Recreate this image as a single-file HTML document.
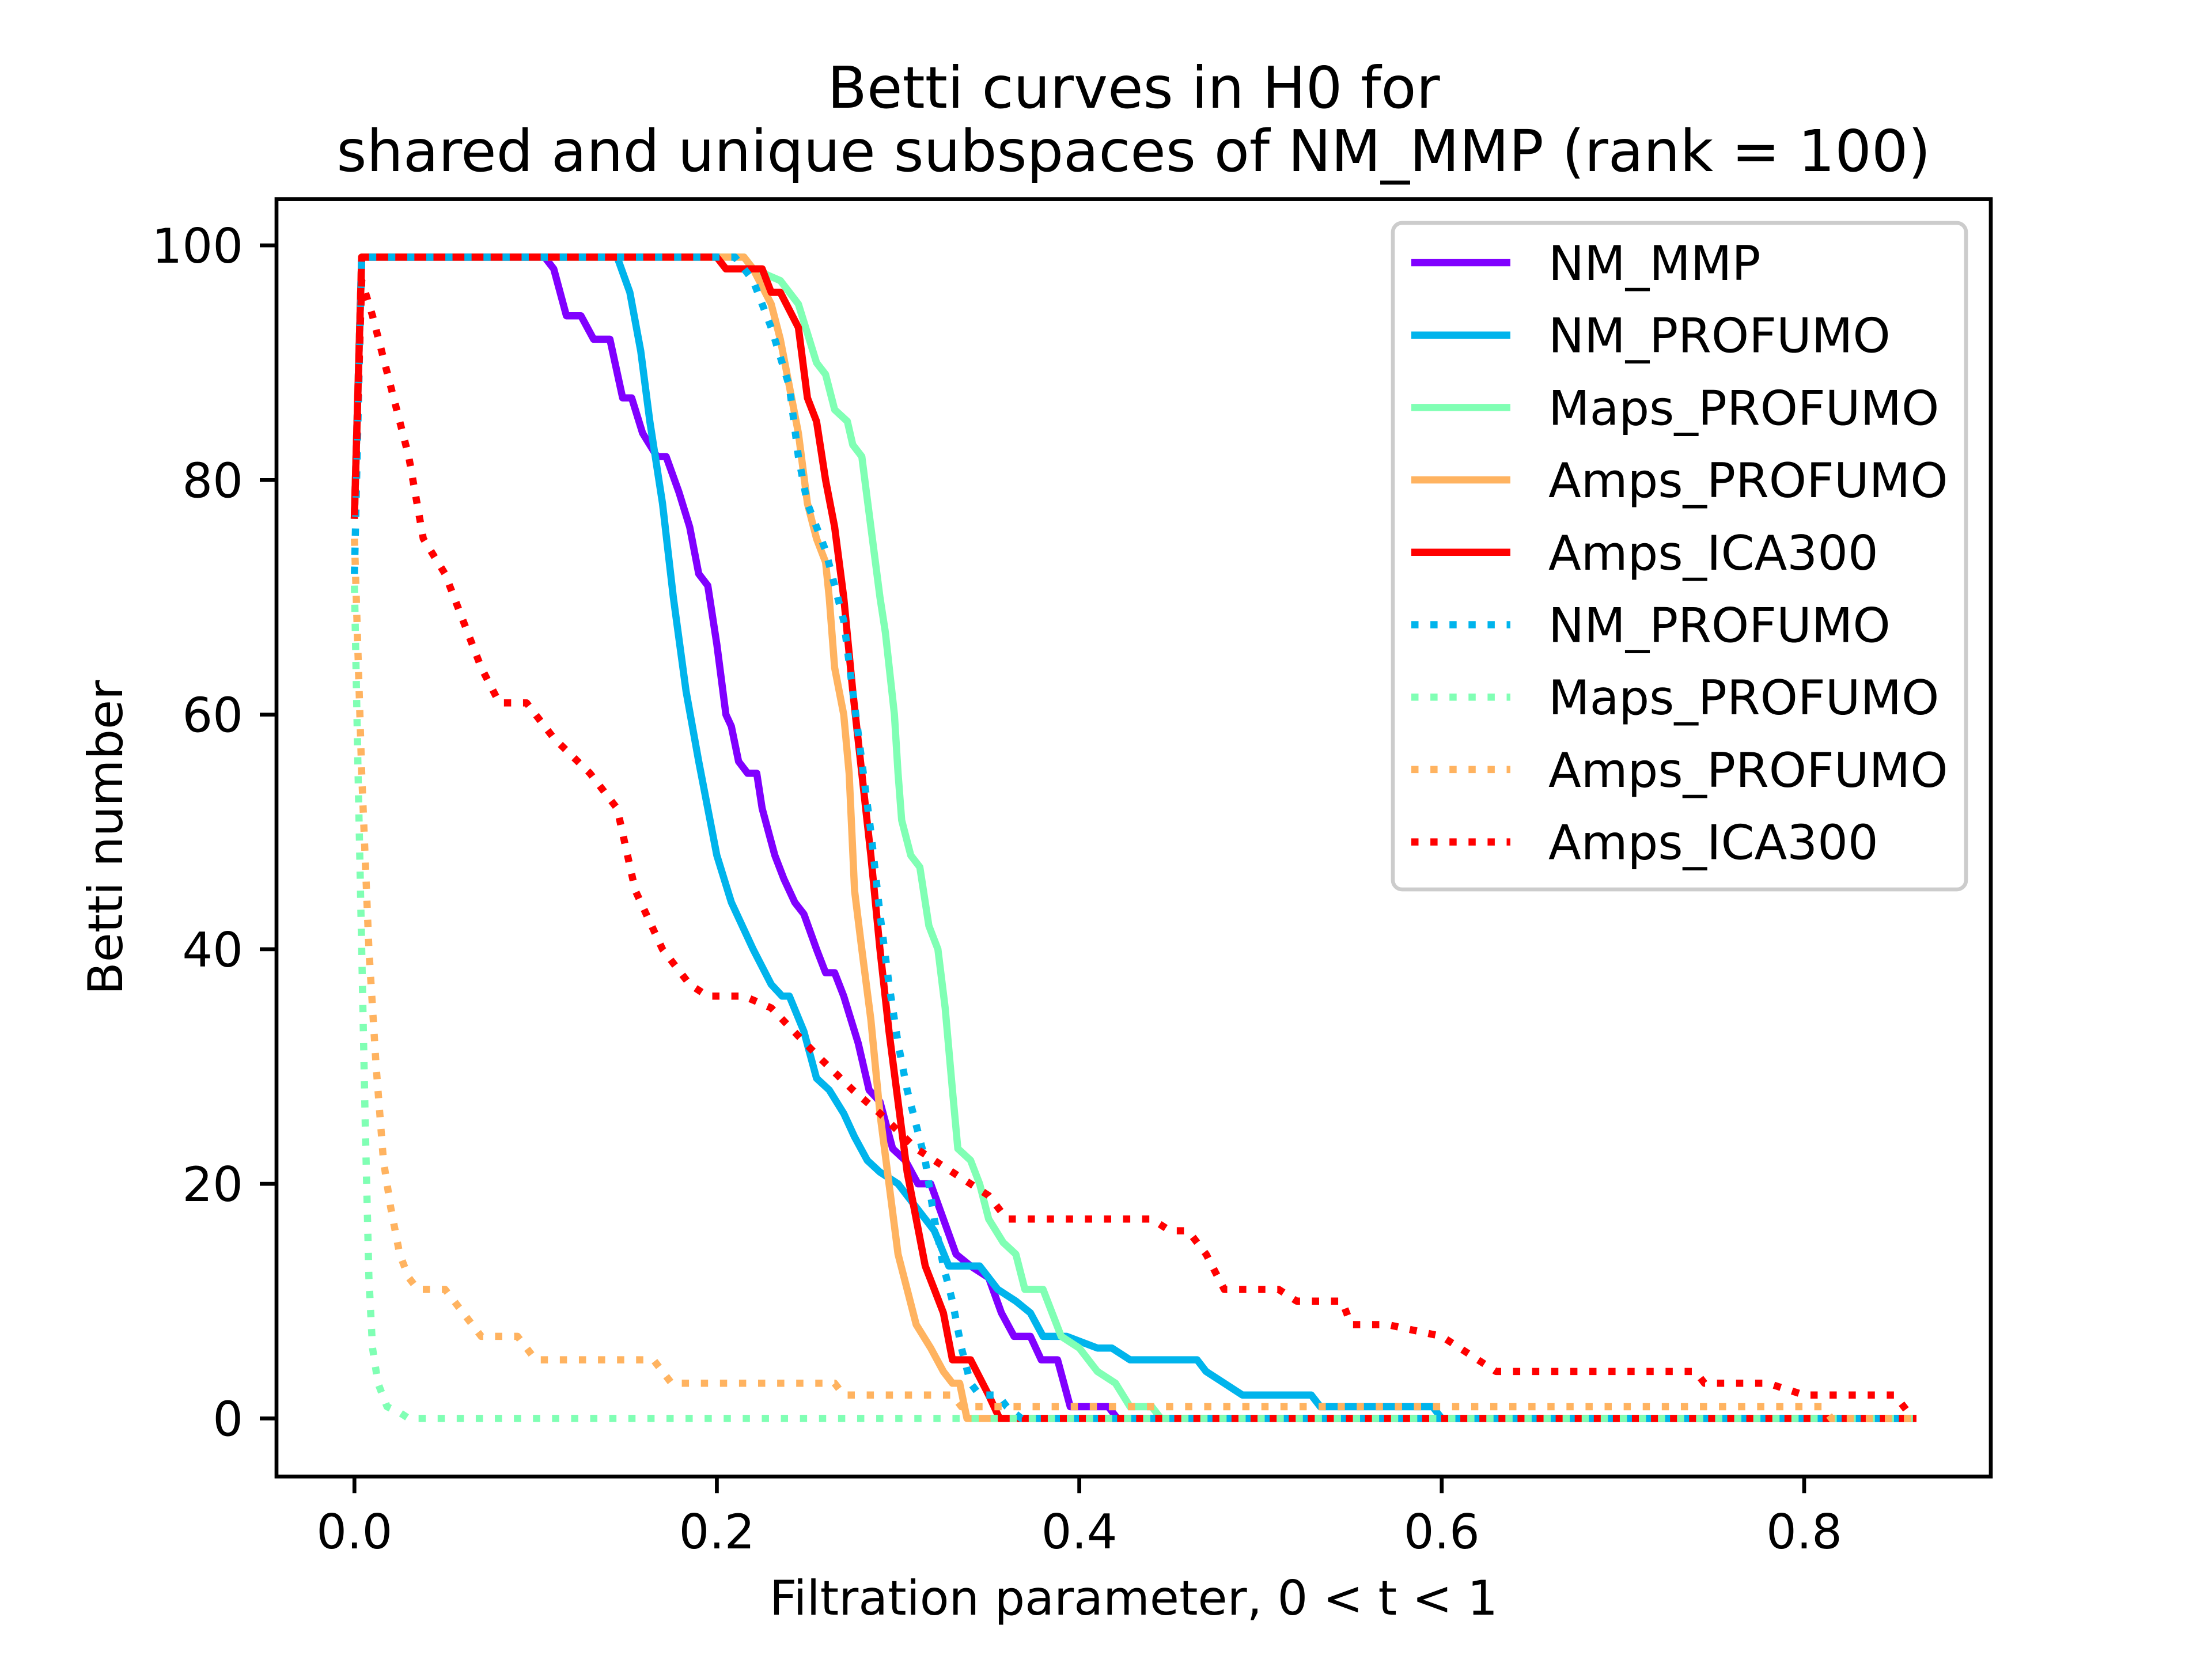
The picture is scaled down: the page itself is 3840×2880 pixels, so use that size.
<!DOCTYPE html>
<html><head><meta charset="utf-8"><style>
html,body{margin:0;padding:0;background:#fff}
svg{display:block}
text{font-family:"DejaVu Sans","Liberation Sans",sans-serif;fill:#000}
</style></head><body>
<svg id="chart" width="3840" height="2880" viewBox="0 0 3840 2880" xmlns="http://www.w3.org/2000/svg">
<rect width="3840" height="2880" fill="#fff"/>
<text x="1968" y="187" font-size="100" text-anchor="middle">Betti curves in H0 for</text>
<text x="1968" y="297" font-size="100" text-anchor="middle">shared and unique subspaces of NM_MMP (rank = 100)</text>
<g id="plot"></g>
<g id="axes"></g>
<text x="1968" y="2803" font-size="83" text-anchor="middle">Filtration parameter, 0 &lt; t &lt; 1</text>
<text x="0" y="0" font-size="83" text-anchor="middle" transform="translate(212,1454) rotate(-90)">Betti number</text>
<g id="legend"></g>
</svg>
<script>
const xTicks = [0.0, 0.2, 0.4, 0.6, 0.8];
const xTickLabels = ["0.0", "0.2", "0.4", "0.6", "0.8"];
const yTicks = [0, 20, 40, 60, 80, 100];
const yTickLabels = ["0", "20", "40", "60", "80", "100"];
const seriesNames = ["NM_MMP","NM_PROFUMO","Maps_PROFUMO","Amps_PROFUMO","Amps_ICA300","NM_PROFUMO","Maps_PROFUMO","Amps_PROFUMO","Amps_ICA300"];
const seriesColors = ["#8000ff","#00b4ec","#80ffb4","#ffb360","#ff0000","#00b4ec","#80ffb4","#ffb360","#ff0000"];
const seriesDotted = [false,false,false,false,false,true,true,true,true];

const nmMmpX = [0,0.004,0.105,0.11,0.117,0.125,0.132,0.141,0.148,0.153,0.159,0.167,0.172,0.179,0.185,0.19,0.195,0.2,0.205,0.208,0.212,0.217,0.222,0.225,0.232,0.237,0.243,0.248,0.255,0.26,0.265,0.27,0.278,0.284,0.29,0.297,0.304,0.311,0.318,0.325,0.332,0.34,0.35,0.357,0.364,0.373,0.379,0.388,0.395,0.416,0.421,0.86];
const nmMmpY = [77,99,99,98,94,94,92,92,87,87,84,82,82,79,76,72,71,66,60,59,56,55,55,52,48,46,44,43,40,38,38,36,32,28,27,23,22,20,20,17,14,13,12,9,7,7,5,5,1,1,0,0];

const nmProfX = [0,0.004,0.145,0.152,0.158,0.163,0.17,0.176,0.183,0.19,0.195,0.2,0.208,0.22,0.23,0.236,0.24,0.248,0.255,0.262,0.27,0.276,0.283,0.29,0.3,0.31,0.32,0.328,0.345,0.355,0.365,0.373,0.38,0.393,0.41,0.418,0.428,0.465,0.47,0.48,0.49,0.528,0.533,0.595,0.6,0.86];
const nmProfY = [77,99,99,96,91,85,78,70,62,56,52,48,44,40,37,36,36,33,29,28,26,24,22,21,20,18,16,13,13,11,10,9,7,7,6,6,5,5,4,3,2,2,1,1,0,0];

const mapsProfX = [0,0.004,0.215,0.22,0.235,0.245,0.255,0.26,0.265,0.272,0.275,0.28,0.285,0.29,0.293,0.298,0.3,0.302,0.307,0.312,0.317,0.322,0.326,0.33,0.333,0.34,0.345,0.35,0.358,0.365,0.37,0.38,0.385,0.39,0.4,0.41,0.42,0.428,0.44,0.445,0.86];
const mapsProfY = [77,99,99,98,97,95,90,89,86,85,83,82,76,70,67,60,55,51,48,47,42,40,35,28,23,22,20,17,15,14,11,11,9,7,6,4,3,1,1,0,0];

const ampsProfX = [0,0.004,0.215,0.22,0.23,0.235,0.24,0.245,0.25,0.255,0.26,0.262,0.265,0.27,0.273,0.276,0.28,0.285,0.29,0.295,0.3,0.305,0.31,0.318,0.325,0.33,0.334,0.338,0.86];
const ampsProfY = [77,99,99,98,95,92,88,84,78,75,73,70,64,60,55,45,40,34,26,20,14,11,8,6,4,3,3,0,0];

const ampsIcaX = [0,0.004,0.2,0.205,0.225,0.23,0.235,0.245,0.25,0.255,0.26,0.265,0.27,0.275,0.28,0.285,0.29,0.295,0.3,0.305,0.31,0.315,0.32,0.325,0.33,0.34,0.35,0.356,0.86];
const ampsIcaY = [77,99,99,98,98,96,96,93,87,85,80,76,70,62,55,48,40,33,27,21,17,13,11,9,5,5,2,0,0];

const nmProfDotX = [0,0.004,0.21,0.22,0.23,0.24,0.245,0.25,0.26,0.265,0.27,0.275,0.28,0.285,0.29,0.295,0.3,0.305,0.31,0.315,0.32,0.325,0.33,0.335,0.34,0.345,0.355,0.36,0.368,0.86];
const nmProfDotY = [72,99,99,97,93,88,82,78,74,71,68,62,56,50,43,37,32,28,25,22,17,13,10,6,3,2,2,1,0,0];

const mapsProfDotX = [0,0.002,0.004,0.006,0.008,0.01,0.013,0.018,0.025,0.03,0.86];
const mapsProfDotY = [71,55,40,25,12,6,3,1,0.5,0,0];

const ampsProfDotX = [0,0.004,0.008,0.012,0.016,0.02,0.025,0.03,0.035,0.05,0.06,0.07,0.09,0.1,0.13,0.165,0.17,0.175,0.265,0.27,0.33,0.335,0.81,0.815,0.86];
const ampsProfDotY = [75,55,40,30,22,18,14,12,11,11,9,7,7,5,5,5,4,3,3,2,2,1,1,0,0];

const ampsIcaDotX = [0,0.004,0.01,0.02,0.03,0.038,0.05,0.06,0.07,0.08,0.095,0.11,0.13,0.145,0.155,0.17,0.185,0.195,0.215,0.23,0.255,0.275,0.29,0.31,0.33,0.35,0.36,0.4,0.44,0.45,0.46,0.47,0.48,0.51,0.52,0.545,0.55,0.57,0.6,0.61,0.62,0.63,0.74,0.745,0.78,0.8,0.85,0.855,0.86];
const ampsIcaDotY = [77,97,94,88,82,75,72,68,64,61,61,58,55,52,45,40,37,36,36,35,31,28,26,23,21,19,17,17,17,16,16,14,11,11,10,10,8,8,7,6,5,4,4,3,3,2,2,1,0];

const seriesX = [nmMmpX,nmProfX,mapsProfX,ampsProfX,ampsIcaX,nmProfDotX,mapsProfDotX,ampsProfDotX,ampsIcaDotX];
const seriesY = [nmMmpY,nmProfY,mapsProfY,ampsProfY,ampsIcaY,nmProfDotY,mapsProfDotY,ampsProfDotY,ampsIcaDotY];

const NS = "http://www.w3.org/2000/svg";
const AX = {left:480, right:3456, top:345.6, bottom:2563.2};
const xMin = -0.043, xMax = 0.903, yMin = -4.95, yMax = 103.95;
function sx(v){ return AX.left + (v - xMin) / (xMax - xMin) * (AX.right - AX.left); }
function sy(v){ return AX.bottom - (v - yMin) / (yMax - yMin) * (AX.bottom - AX.top); }
function mk(tag, attrs, parent){
  const e = document.createElementNS(NS, tag);
  for (const k in attrs) e.setAttribute(k, attrs[k]);
  parent.appendChild(e);
  return e;
}
const LW = 12.5;
const plot = document.getElementById("plot");
const drawOrder = [0,1,2,3,4,5,6,7,8];
drawOrder.forEach(function(i){
  const pts = seriesX[i].map(function(x, j){ return sx(x).toFixed(1) + "," + sy(seriesY[i][j]).toFixed(1); }).join(" ");
  const attrs = {points: pts, fill: "none", stroke: seriesColors[i], "stroke-width": LW, "stroke-linejoin": "round", "stroke-linecap": seriesDotted[i] ? "butt" : "square"};
  if (seriesDotted[i]) attrs["stroke-dasharray"] = "12.5 20.6";
  const pl = mk("polyline", attrs, plot);
  
  
});

const axes = document.getElementById("axes");
const frame = mk("rect", {x: AX.left, y: AX.top, width: AX.right - AX.left, height: AX.bottom - AX.top, fill: "none", stroke: "#000", "stroke-width": 6.7}, axes);


xTicks.forEach(function(v, i){
  const x = sx(v);
  const t = mk("line", {x1: x, x2: x, y1: AX.bottom, y2: AX.bottom + 29, stroke: "#000", "stroke-width": 6.7}, axes);
  
  
  const l = mk("text", {x: x, y: 2688, "font-size": 83, "text-anchor": "middle"}, axes);
  l.textContent = xTickLabels[i];
  
  
});
yTicks.forEach(function(v, i){
  const y = sy(v);
  const t = mk("line", {x1: AX.left - 29, x2: AX.left, y1: y, y2: y, stroke: "#000", "stroke-width": 6.7}, axes);
  
  
  const l = mk("text", {x: 422, y: y + 30, "font-size": 83, "text-anchor": "end"}, axes);
  l.textContent = yTickLabels[i];
  
  
});

const legend = document.getElementById("legend");
const box = mk("rect", {x: 2418, y: 387, width: 995, height: 1157, rx: 16, fill: "#fff", "fill-opacity": 0.8, stroke: "#cccccc", "stroke-width": 6.7}, legend);


seriesNames.forEach(function(name, i){
  const y = 456 + i * 125.7;
  const la = {x1: 2450, x2: 2622, y1: y, y2: y, stroke: seriesColors[i], "stroke-width": LW};
  if (seriesDotted[i]) la["stroke-dasharray"] = "12.5 20.6";
  const ln = mk("line", la, legend);
  
  
  const tx = mk("text", {x: 2688, y: y + 30, "font-size": 83}, legend);
  tx.textContent = name;
  
  
});
</script>
</body></html>
